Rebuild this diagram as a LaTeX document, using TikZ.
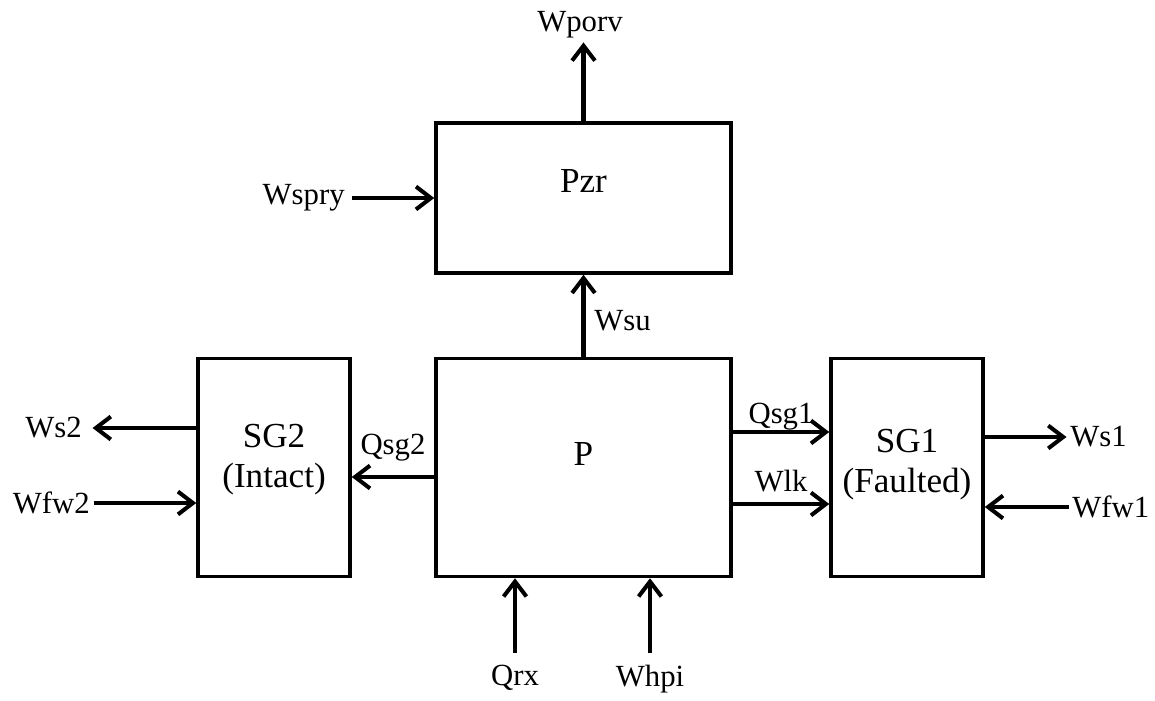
\documentclass[tikz,border=0pt]{standalone}
\usepackage{fontspec}
\setmainfont{Liberation Serif}
\usetikzlibrary{arrows.meta,calc}

\begin{document}
\begin{tikzpicture}[
    unit/.style={rectangle,draw,line width=2pt,minimum width=5.9cm,minimum height=4.36cm},
    sgunit/.style={unit,minimum width=3.04cm},
    boxtext/.style={font=\fontsize{20}{22.7}\selectfont,align=center,inner sep=0pt},
    sig/.style={font=\fontsize{17.5}{21}\selectfont,inner sep=0pt},
    flow/.style={line width=2.3pt,-{Straight Barb[length=8.5pt,width=13pt]}}
]
\useasboundingbox (0,0) rectangle (23.1,14);

\node[unit,minimum height=3cm] (pzr) at (11.67,10.04) {};
\node[boxtext] (pzrtext) at (11.67,10.38) {Pzr};
\node[unit] (p) at (11.67,4.65) {};
\node[boxtext] (ptext) at (11.67,4.92) {P};
\node[sgunit] (sg2) at (5.48,4.65) {};
\node[boxtext] (sg2text) at (5.48,4.8) {SG2\\(Intact)};
\node[sgunit] (sg1) at (18.14,4.65) {};
\node[boxtext] (sg1text) at (18.14,4.7) {SG1\\(Faulted)};

% pressurizer
\node[sig,anchor=south] (wporv) at (11.6,13.24) {Wporv};
\draw[flow,shorten >=2.5pt] (pzr.north) -- (pzr.north|-wporv.south);
\node[sig,anchor=east] (wspry) at (6.9,10.04) {Wspry};
\draw[flow,shorten <=4pt] (wspry.east) -- (pzr.west);
\draw[flow] (p.north) -- node[sig,right=5pt,pos=0.44] (wsu) {Wsu} (pzr.south);

% intact side
\draw[flow] (p.west|-0,4.46) -- node[sig,above=7.6pt] (qsg2) {Qsg2} (sg2.east|-0,4.46);
\node[sig,anchor=east] (ws2) at (1.64,5.44) {Ws2};
\draw[flow,shorten >=6pt] (sg2.west|-ws2.east) -- (ws2.east);
\node[sig,anchor=east] (wfw2) at (1.8,3.94) {Wfw2};
\draw[flow,shorten <=2pt] (wfw2.east) -- (sg2.west|-wfw2.east);

% faulted side
\draw[flow] (p.east|-0,5.36) -- node[sig,above] (qsg1) {Qsg1} (sg1.west|-0,5.36);
\draw[flow] (p.east|-0,3.92) -- node[sig,above=5.7pt] (wlk) {Wlk} (sg1.west|-0,3.92);
\node[sig,anchor=west] (ws1) at (21.4,5.26) {Ws1};
\draw[flow,shorten >=2pt] (sg1.east|-ws1.west) -- (ws1.west);
\node[sig,anchor=west] (wfw1) at (21.44,3.86) {Wfw1};
\draw[flow,shorten <=2pt] (wfw1.west) -- (sg1.east|-wfw1.west);

% bottom inputs
\node[sig,anchor=north] (qrx) at (10.3,0.7) {Qrx};
\draw[flow] ([yshift=7pt]qrx.north) -- (qrx.north|-p.south);
\node[sig,anchor=north] (whpi) at (13.0,0.7) {Whpi};
\draw[flow] ([yshift=7pt]whpi.north) -- (whpi.north|-p.south);
\end{tikzpicture}
\end{document}
